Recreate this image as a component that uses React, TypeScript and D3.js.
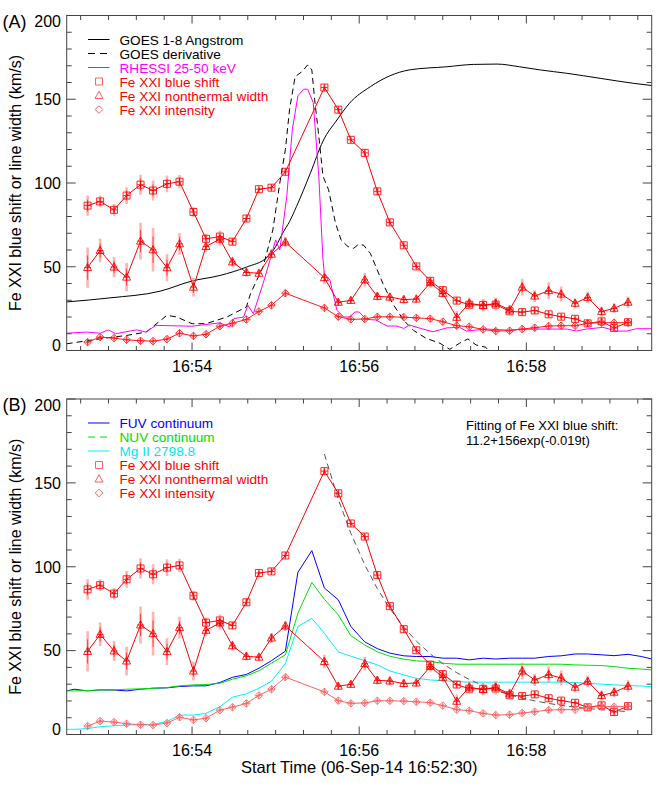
import React, { useEffect, useRef } from "react";
import * as d3 from "d3";

// time axis: seconds after 16:52:30
const feTimes = [15, 24, 34, 43, 53, 62, 72, 81, 91, 100, 110, 119, 129, 138, 147, 157, 166, 176, 185, 195, 204, 214, 223, 232, 242, 251, 261, 270, 280, 289, 299, 308, 318, 327, 336, 346, 355, 365, 374, 384, 393, 403];

const blueShift = [86.5, 89, 84, 92.5, 99, 95.5, 99.5, 100.8, 82.7, 66.7, 68, 65, 78.8, 96.3, 97.2, 106.7, null, null, 157, 143.8, 125.8, 118, 95, 76.5, 62.8, 50.2, 41.6, 36, 29.8, 27.3, 27.2, 27.4, 23.4, 22.9, 23.9, 21.6, 20.2, 18.9, 16.2, 17.4, 13.4, 16.9];
const blueShiftErr = [6, 3.5, 3.5, 5, 6, 6, 5, 4, 3, 3, 3.5, 2, 2, 1.5, 1.5, 1.5, null, null, 1.5, 1.5, 1.5, 2, 2, 1.5, 1.5, 1.5, 2.5, 2.5, 2, 3, 3.5, 3.5, 2.5, 2, 2, 1.5, 1.5, 1.5, 2, 2, 2, 2];

const nonthermal = [49.5, 59.7, 49.8, 43.8, 65.3, 60.1, 49.4, 63.7, 37.8, 62.1, 66.5, 52.9, 46.6, 46.1, 57.5, 64.7, null, null, 43.5, 28.8, 29.9, 42.2, 32.3, 31.9, 30.4, 30.7, 40.5, 34.1, 19.8, 28.2, 26.8, 28.2, 24.2, 37.8, 32.5, 35.7, 33.7, 28.2, 31.7, 23.2, 25.2, 28.8];
const nonthermalErr = [12, 7, 6, 8.5, 11, 13, 8, 6.5, 5.5, 3.5, 4, 3, 2.5, 2, 3, 3, null, null, 4, 2, 2, 4, 2.5, 2.5, 2.5, 2, 3, 2.5, 4, 3.5, 3.5, 3.5, 3, 5, 3.5, 5, 4.5, 3, 3.5, 3, 3, 3.5];

const intensity = [5, 8, 7.4, 6.4, 5.8, 5.6, 6.8, 10.3, 8.7, 9.7, 14.5, 16.3, 18.5, 23.3, 27, 34.2, null, null, 25.4, 20.2, 18.6, 18.8, 20.1, 20.1, 19.9, 19.5, 19, 17.2, 14.8, 14.2, 12.6, 11.6, 11.8, 12.8, 13.6, 14.6, 14.8, 14.8, 16.2, 16.6, 16.6, 16.6];
const intensityErr = [1, 1, 1, 1, 1, 1, 1, 1, 1, 1, 1, 1, 1, 1, 1, 1.5, null, null, 1, 1, 1, 1, 1, 1, 1, 1, 1, 1, 1, 1, 1, 1, 1, 1, 1, 1, 1, 1, 1, 1, 1, 1];

// GOES 1-8 Angstrom (scaled)
const goesT = [0, 31, 67, 90, 110, 129, 144, 150, 155, 160, 165, 175, 184, 194, 203, 218, 232, 246, 273, 292, 309, 325, 340, 359, 383, 407, 420];
const goesV = [29, 31.4, 35.4, 41.5, 44.8, 49.8, 55.7, 62, 70, 77, 86, 106, 125, 137.6, 147.6, 157.5, 164, 167.5, 169.4, 170.8, 171, 169.4, 167.5, 165.5, 162.5, 159.5, 158.2];

// GOES derivative (scaled)
const derivT = [0, 24, 43, 57, 66, 72, 79, 90, 100, 115, 129, 132, 141, 148, 153, 157, 160, 164, 169, 173, 176, 178, 181, 184, 188, 193, 197, 202, 206, 209, 213, 218, 223, 227, 234, 242, 249, 258, 268, 275, 282, 288, 294, 301, 306];
const derivV = [4, 7, 9, 11, 17, 21, 20, 16, 16, 20, 26, 34, 50, 72, 100, 120, 144, 163.5, 166.5, 170.5, 167.5, 150, 128, 104, 96, 76, 66, 62, 61, 63, 63, 58, 48, 40, 28, 18, 12, 7.3, 4.3, 0.7, 4.3, 6.9, 3.3, 1.9, -4];

// RHESSI 25-50 keV (scaled)
const rhessiT = [0, 14, 24, 30, 35, 50, 57, 64, 90, 110, 117, 120, 127, 130, 134, 141, 146, 150, 153, 158, 162, 166, 170, 173, 177, 181, 184, 185, 189, 194, 199, 203, 207, 210, 215, 222, 230, 237, 242, 246, 254, 263, 273, 282, 287, 301, 316, 335, 359, 366, 373, 385, 395, 402, 409, 420];
const rhessiV = [10.3, 11, 10.3, 12.3, 10, 12.3, 11, 15, 14.5, 16.5, 14, 19, 20, 27, 22, 40, 54, 66, 60, 92, 132, 152, 156, 156, 148, 104, 54, 46, 42, 24, 20, 20, 23, 23, 18.6, 18.2, 14.6, 14.6, 13.2, 15.2, 13.2, 11.2, 13.5, 13.8, 11.6, 12.8, 12.2, 12.8, 12.8, 11.6, 12.8, 13.8, 11.6, 11.6, 13, 13];

// slit-jaw continua, same cadence plus two extra frames at each end
const contTimes = [0, 5.5, ...feTimes, 412.5, 420];
const fuv = [26, 27, 26, 26.6, 26.5, 26, 27, 27.6, 27.8, 28.6, 29, 29, 31, 34.1, 35.8, 39.5, 44, 49.7, 96.7, 109.6, 87.3, 80.3, 64.4, 55.2, 51.2, 48.5, 46.9, 46.5, 46.5, 45.5, 45.5, 44.5, 45.5, 45, 45.5, 45.5, 45.5, 46.5, 46.9, 48, 48, 47.5, 47, 47.8, 46.5, 45];
const nuv = [26, 26, 26.2, 26.5, 26.6, 27, 27.2, 27.5, 28, 29, 29.6, 29.8, 30.5, 33, 35, 38, 42.5, 47.5, 72.3, 90.6, 80.6, 71.3, 58.9, 53.4, 49.3, 46.7, 44.9, 43.9, 43.5, 42.5, 41.9, 41.9, 41.9, 41.9, 41.9, 41.9, 41.9, 41.9, 41.9, 41.5, 41.3, 41.1, 40.5, 39.5, 39, 38.5];
const mg2 = [3.1, 3.1, 3.5, 4.7, 5.2, 5.7, 5.9, 6.1, 7.7, 11.6, 11.6, 12.6, 16.6, 22.2, 24.3, 27.6, 31.7, 42.3, 64.4, 69.2, 60.4, 49.2, 46.7, 44, 41.5, 37.9, 35.5, 33.5, 32.5, 32, 31.6, 31.2, 31.2, 31.2, 31.2, 31.2, 31.2, 31.2, 31.2, 31, 30.5, 30, 29.6, 29.2, 28.9, 28.6];

// exponential fit shown in panel B: A + B exp(-K t), t from the blue-shift peak
const FIT_A = 11.2;
const FIT_B = 156;
const FIT_K = 0.019;
const FIT_T0 = 185;

const xMajor = [90, 210, 330];
const xMajorLabels = ["16:54", "16:56", "16:58"];
const yMajor = [0, 50, 100, 150, 200];

const legendA = [
  { text: "GOES 1-8 Angstrom", color: "#000", kind: "line", dash: null, lineColor: "#000" },
  { text: "GOES derivative", color: "#000", kind: "line", dash: "7,5", lineColor: "#000" },
  { text: "RHESSI 25-50 keV", color: "#ff00ff", kind: "line", dash: null, lineColor: "#ff00ff" },
  { text: "Fe XXI blue shift", color: "#ff0000", kind: "square" },
  { text: "Fe XXI nonthermal width", color: "#ff0000", kind: "triangle" },
  { text: "Fe XXI intensity", color: "#ff0000", kind: "diamond" },
];
const legendB = [
  { text: "FUV continuum", color: "#0000ff", kind: "line", dash: null, lineColor: "#0000ff" },
  { text: "NUV continuum", color: "#00e000", kind: "line", dash: "7,5", lineColor: "#00e000" },
  { text: "Mg II 2798.8", color: "#00e8f0", kind: "line", dash: null, lineColor: "#00f0ff" },
  { text: "Fe XXI blue shift", color: "#ff0000", kind: "square" },
  { text: "Fe XXI nonthermal width", color: "#ff0000", kind: "triangle" },
  { text: "Fe XXI intensity", color: "#ff0000", kind: "diamond" },
];

const FONT = "'Liberation Sans', Arial, Helvetica, sans-serif";
const W = 664;
const H = 798;
const LEFT = 66.7;
const RIGHT = 651.7;

function markerPath(kind: string, cx: number, cy: number, cross: boolean) {
  let p = "";
  if (kind === "square") {
    p = `M${cx - 3.5},${cy - 3.5}h7v7h-7Z`;
  } else if (kind === "triangle") {
    p = `M${cx},${cy - 4.3}L${cx + 4},${cy + 3}L${cx - 4},${cy + 3}Z`;
  } else {
    p = `M${cx},${cy - 3.8}L${cx + 3.8},${cy}L${cx},${cy + 3.8}L${cx - 3.8},${cy}Z`;
  }
  if (cross) p += `M${cx - 3.3},${cy}h6.6M${cx},${cy - 3.5}v7`;
  return p;
}

function App() {
  const ref = useRef<SVGSVGElement>(null);

  useEffect(() => {
    const svg = d3.select(ref.current);
    svg.selectAll("*").remove();

    const x = d3.scaleLinear().domain([0, 420]).range([LEFT, RIGHT]);

    const panels = [
      { top: 15.5, bottom: 350.5, tag: "(A)", id: "A" },
      { top: 399, bottom: 734.5, tag: "(B)", id: "B" },
    ];

    panels.forEach((pn) => {
      const y = d3.scaleLinear().domain([0, 200]).range([pn.bottom, pn.top]);
      const g = svg.append("g");

      g.append("clipPath")
        .attr("id", "clip" + pn.id)
        .append("rect")
        .attr("x", LEFT)
        .attr("y", pn.top)
        .attr("width", RIGHT - LEFT)
        .attr("height", pn.bottom - pn.top);

      const plot = g.append("g").attr("clip-path", `url(#clip${pn.id})`);

      const lineXY = d3
        .line<[number, number]>()
        .x((d) => x(d[0]))
        .y((d) => y(d[1]));

      if (pn.id === "A") {
        plot
          .append("path")
          .datum(d3.zip(goesT, goesV) as [number, number][])
          .attr("d", lineXY.curve(d3.curveMonotoneX))
          .attr("fill", "none")
          .attr("stroke", "#000")
          .attr("stroke-width", 1);
        lineXY.curve(d3.curveLinear);
        plot
          .append("path")
          .datum(d3.zip(derivT, derivV) as [number, number][])
          .attr("d", lineXY)
          .attr("fill", "none")
          .attr("stroke", "#000")
          .attr("stroke-width", 1)
          .attr("stroke-dasharray", "6,4");
        plot
          .append("path")
          .datum(d3.zip(rhessiT, rhessiV) as [number, number][])
          .attr("d", lineXY)
          .attr("fill", "none")
          .attr("stroke", "#ff00ff")
          .attr("stroke-width", 1);
      } else {
        const conts = [
          { v: fuv, c: "#0000ff" },
          { v: nuv, c: "#00e000" },
          { v: mg2, c: "#00f0ff" },
        ];
        conts.forEach((s) => {
          plot
            .append("path")
            .datum(d3.zip(contTimes, s.v) as [number, number][])
            .attr("d", lineXY)
            .attr("fill", "none")
            .attr("stroke", s.c)
            .attr("stroke-width", 1);
        });
        const fitPts = feTimes
          .filter((t) => t >= FIT_T0)
          .map((t) => [t, FIT_A + FIT_B * Math.exp(-FIT_K * (t - FIT_T0))] as [number, number]);
        plot
          .append("path")
          .datum(fitPts)
          .attr("d", lineXY)
          .attr("fill", "none")
          .attr("stroke", "#555")
          .attr("stroke-width", 1)
          .attr("stroke-dasharray", "6,4");
      }

      // Fe XXI series
      const diamondColor = pn.id === "A" ? "#ff1a1a" : "#ff6060";
      const series = [
        { vals: blueShift, errs: blueShiftErr, kind: "square", color: "#ff0000" },
        { vals: nonthermal, errs: nonthermalErr, kind: "triangle", color: "#ff0000" },
        { vals: intensity, errs: intensityErr, kind: "diamond", color: diamondColor },
      ];
      series.forEach((s) => {
        const pts = feTimes
          .map((t, i) => ({ t, v: s.vals[i] as number | null, e: s.errs[i] as number | null }))
          .filter((p) => p.v != null) as { t: number; v: number; e: number }[];

        // error bars: pale wide bar with a thin darker core
        plot
          .selectAll(null)
          .data(pts)
          .join("line")
          .attr("x1", (p) => x(p.t))
          .attr("x2", (p) => x(p.t))
          .attr("y1", (p) => y(p.v - p.e))
          .attr("y2", (p) => y(p.v + p.e))
          .attr("stroke", "#ff8080")
          .attr("stroke-opacity", 0.6)
          .attr("stroke-width", 2.6);
        plot
          .selectAll(null)
          .data(pts)
          .join("line")
          .attr("x1", (p) => x(p.t))
          .attr("x2", (p) => x(p.t))
          .attr("y1", (p) => y(p.v - p.e * 0.6))
          .attr("y2", (p) => y(p.v + p.e * 0.6))
          .attr("stroke", s.color)
          .attr("stroke-opacity", 0.8)
          .attr("stroke-width", 0.8);

        plot
          .append("path")
          .datum(pts)
          .attr(
            "d",
            d3
              .line<{ t: number; v: number }>()
              .x((p) => x(p.t))
              .y((p) => y(p.v))
          )
          .attr("fill", "none")
          .attr("stroke", s.color)
          .attr("stroke-width", 1);

        plot
          .selectAll(null)
          .data(pts)
          .join("path")
          .attr("d", (p) => markerPath(s.kind, x(p.t), y(p.v), true))
          .attr("fill", "none")
          .attr("stroke", s.color)
          .attr("stroke-opacity", 0.85)
          .attr("stroke-width", 1);
      });

      // frame and ticks
      const axisColor = "#444";
      g.append("rect")
        .attr("x", LEFT)
        .attr("y", pn.top)
        .attr("width", RIGHT - LEFT)
        .attr("height", pn.bottom - pn.top)
        .attr("fill", "none")
        .attr("stroke", axisColor)
        .attr("stroke-width", 1);

      const xMinor = d3.range(10, 420, 20).filter((t) => !xMajor.includes(t));
      const yMinor = d3.range(10, 200, 10).filter((v) => !yMajor.includes(v));

      const ticks = g.append("g").attr("stroke", axisColor).attr("stroke-width", 1);
      const xt = [
        ...xMajor.map((t) => ({ t, len: 8 })),
        ...xMinor.map((t) => ({ t, len: 4.5 })),
      ];
      xt.forEach((d) => {
        ticks.append("line").attr("x1", x(d.t)).attr("x2", x(d.t)).attr("y1", pn.bottom).attr("y2", pn.bottom - d.len);
        ticks.append("line").attr("x1", x(d.t)).attr("x2", x(d.t)).attr("y1", pn.top).attr("y2", pn.top + d.len);
      });
      const yt = [
        ...yMajor.map((v) => ({ v, len: 9 })),
        ...yMinor.map((v) => ({ v, len: 5 })),
      ];
      yt.forEach((d) => {
        ticks.append("line").attr("x1", LEFT).attr("x2", LEFT + d.len).attr("y1", y(d.v)).attr("y2", y(d.v));
        ticks.append("line").attr("x1", RIGHT).attr("x2", RIGHT - d.len).attr("y1", y(d.v)).attr("y2", y(d.v));
      });

      const labels = g.append("g").attr("font-family", FONT).attr("fill", "#000");
      xMajor.forEach((t, i) => {
        labels
          .append("text")
          .attr("x", x(t))
          .attr("y", pn.bottom + 21.8)
          .attr("text-anchor", "middle")
          .attr("font-size", 16)
          .text(xMajorLabels[i]);
      });
      yMajor.forEach((v) => {
        const cy = Math.min(Math.max(y(v), pn.top + 6), pn.bottom - 5);
        labels
          .append("text")
          .attr("x", 61)
          .attr("y", cy + 5.8)
          .attr("text-anchor", "end")
          .attr("font-size", 16)
          .text(String(v));
      });
      labels
        .append("text")
        .attr("x", 2.5)
        .attr("y", pn.top + 12.3)
        .attr("font-size", 18)
        .text(pn.tag);
      labels
        .append("text")
        .attr("transform", `translate(20.5,${(pn.top + pn.bottom) / 2}) rotate(-90)`)
        .attr("text-anchor", "middle")
        .attr("font-size", 16)
        .text("Fe XXI blue shift or line width (km/s)");

      // legend
      const leg = pn.id === "A" ? legendA : legendB;
      const lg = g.append("g").attr("font-family", FONT).attr("font-size", 13.6);
      leg.forEach((item: any, i) => {
        const cy = pn.top + 24 + i * 14;
        if (item.kind === "line") {
          lg.append("line")
            .attr("x1", 88)
            .attr("x2", 109.5)
            .attr("y1", cy)
            .attr("y2", cy)
            .attr("stroke", item.lineColor)
            .attr("stroke-width", 1)
            .attr("stroke-dasharray", item.dash);
        } else {
          lg.append("path")
            .attr("d", markerPath(item.kind, 99, cy, false))
            .attr("fill", "none")
            .attr("stroke", "#ff6060")
            .attr("stroke-width", 1);
        }
        lg.append("text")
          .attr("x", 119.5)
          .attr("y", cy + 5)
          .attr("fill", item.color)
          .text(item.text);
      });

      if (pn.id === "B") {
        const fg = g.append("g").attr("font-family", FONT).attr("font-size", 13).attr("fill", "#000");
        fg.append("text").attr("x", 466).attr("y", 429.5).text("Fitting of Fe XXI blue shift:");
        fg.append("text").attr("x", 466).attr("y", 444.5).text(`${FIT_A}+${FIT_B}exp(-${FIT_K}t)`);
      }
    });

    svg
      .append("text")
      .attr("x", (LEFT + RIGHT) / 2)
      .attr("y", 773)
      .attr("text-anchor", "middle")
      .attr("font-family", FONT)
      .attr("font-size", 16.5)
      .text("Start Time (06-Sep-14 16:52:30)");
  }, []);

  return (
    <div style={{ position: "absolute", left: 0, top: 0, background: "#fff" }}>
      <svg ref={ref} width={W} height={H} viewBox={`0 0 ${W} ${H}`}></svg>
    </div>
  );
}

export default App;
